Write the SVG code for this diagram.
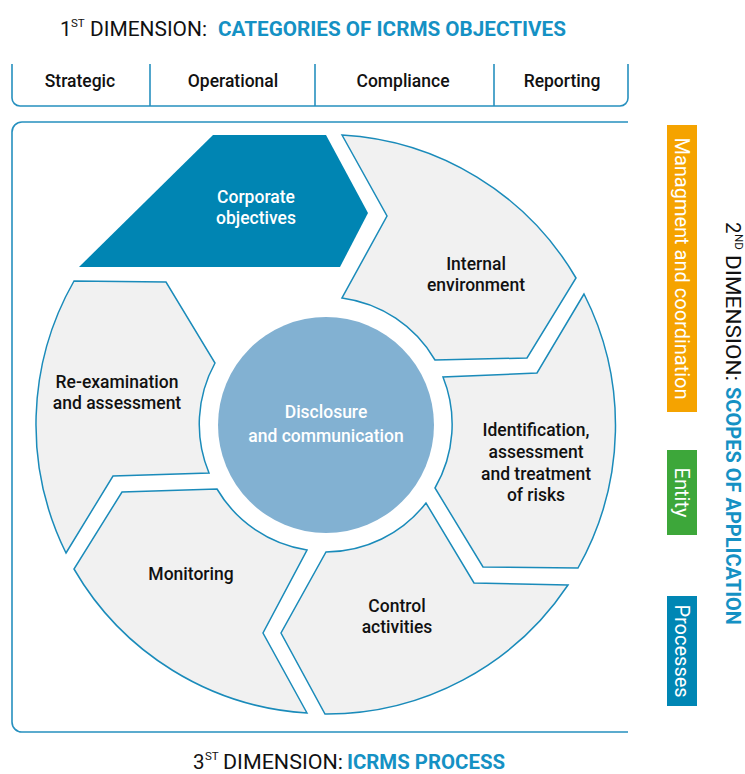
<svg xmlns="http://www.w3.org/2000/svg" width="745" height="774" viewBox="0 0 745 774">
<style>
.frame{fill:none;stroke:#2690BF;stroke-width:1.6}
.seg{fill:#F1F1F1;stroke:#1A8BBA;stroke-width:1.5}
.lbl{font-family:Roboto,"Liberation Sans",sans-serif;font-size:17.5px;font-weight:500;fill:#111;text-anchor:middle}
.wl{font-family:Roboto,"Liberation Sans",sans-serif;font-size:17.5px;font-weight:500;fill:#fff;text-anchor:middle}
.bar{font-family:Roboto,"Liberation Sans",sans-serif;font-size:20px;fill:#fff;text-anchor:middle}
.ttl{font-family:Roboto,"Liberation Sans",sans-serif;font-size:20.5px;fill:#111}
.ttb{font-family:Roboto,"Liberation Sans",sans-serif;font-size:20.5px;font-weight:bold;fill:#1591C4}
.sup{font-family:Roboto,"Liberation Sans",sans-serif;font-size:11.5px;fill:#111}
</style>
<rect width="745" height="774" fill="#fff"/>

<g id="title1">
<text class="ttl" x="60" y="36">1</text>
<text class="sup" x="71" y="27">ST</text>
<text class="ttl" x="90" y="36" textLength="117" lengthAdjust="spacingAndGlyphs">DIMENSION:</text>
<text class="ttb" x="218" y="36" textLength="348" lengthAdjust="spacingAndGlyphs">CATEGORIES OF ICRMS OBJECTIVES</text>
</g>

<g id="objectives-header">
<path class="frame" d="M12,64 V98 A8,8 0 0 0 20,106 H620 A8,8 0 0 0 628,98 V64"/>
<line class="frame" x1="150" y1="64" x2="150" y2="106"/>
<line class="frame" x1="315" y1="64" x2="315" y2="106"/>
<line class="frame" x1="494" y1="64" x2="494" y2="106"/>
<text class="lbl" x="80" y="87">Strategic</text>
<text class="lbl" x="233" y="87">Operational</text>
<text class="lbl" x="403" y="87">Compliance</text>
<text class="lbl" x="562" y="87">Reporting</text>
</g>

<g id="main-frame">
<path class="frame" d="M628,122 H22 A10,10 0 0 0 12,132 V722 A10,10 0 0 0 22,732 H628"/>
</g>

<g id="corporate-objectives">
<polygon points="79,267 213,135 326,135 368,213 340,267" fill="#0085B3"/>
<text class="wl" x="256" y="203">Corporate</text>
<text class="wl" x="256" y="224">objectives</text>
</g>

<g id="internal-environment">
<path class="seg" d="M342,135 L387,216 L342,298 A127,127 0 0 1 435,360 L527,358 L576,278 A290,290 0 0 0 342,135 Z"/>
<text class="lbl" x="476" y="270">Internal</text>
<text class="lbl" x="476" y="291">environment</text>
</g>

<g id="identification">
<path class="seg" d="M584,294 L537,373 L443,377 A127,127 0 0 1 435,488 L483,567 L578,568 A290,290 0 0 0 584,294 Z"/>
<text class="lbl" x="536" y="436">Identification,</text>
<text class="lbl" x="536" y="458">assessment</text>
<text class="lbl" x="536" y="480">and treatment</text>
<text class="lbl" x="536" y="501">of risks</text>
</g>

<g id="control-activities">
<path class="seg" d="M568,585 L474,583 L426,503 A127,127 0 0 1 326,552 L281,633 L325,714 A290,290 0 0 0 568,585 Z"/>
<text class="lbl" x="397" y="612">Control</text>
<text class="lbl" x="397" y="633">activities</text>
</g>

<g id="monitoring">
<path class="seg" d="M307,713 L263,633 L307,550 A127,127 0 0 1 217,489 L122,492 L74,569 A290,290 0 0 0 307,713 Z"/>
<text class="lbl" x="191" y="580">Monitoring</text>
</g>

<g id="re-examination">
<path class="seg" d="M66,553 L113,476 L209,473 A127,127 0 0 1 215,363 L166,282 L74,281 A290,290 0 0 0 66,553 Z"/>
<text class="lbl" x="117" y="388">Re-examination</text>
<text class="lbl" x="117" y="409">and assessment</text>
</g>

<g id="disclosure">
<circle cx="326" cy="425" r="108" fill="#82B1D2"/>
<text class="wl" x="326" y="418">Disclosure</text>
<text class="wl" x="326" y="442">and communication</text>
</g>

<g id="scope-management">
<rect x="667" y="125" width="30" height="287" fill="#F5A300"/>
<text class="bar" transform="translate(682,268.5) rotate(90)" y="7">Managment and coordination</text>
</g>
<g id="scope-entity">
<rect x="667" y="450" width="30" height="85" fill="#3DA73A"/>
<text class="bar" transform="translate(682,492.5) rotate(90)" y="7">Entity</text>
</g>
<g id="scope-processes">
<rect x="667" y="596" width="30" height="110" fill="#0086B4"/>
<text class="bar" transform="translate(682,651) rotate(90)" y="7">Processes</text>
</g>

<g id="title2" transform="translate(726,222) rotate(90)">
<text class="ttl" x="0" y="0">2</text>
<text class="sup" x="12" y="-9">ND</text>
<text class="ttl" x="33" y="0" textLength="126" lengthAdjust="spacingAndGlyphs">DIMENSION:</text>
<text class="ttb" x="165" y="0" textLength="238" lengthAdjust="spacingAndGlyphs">SCOPES OF APPLICATION</text>
</g>

<g id="title3">
<text class="ttl" x="193" y="769">3</text>
<text class="sup" x="205" y="760">ST</text>
<text class="ttl" x="223" y="769" textLength="120" lengthAdjust="spacingAndGlyphs">DIMENSION:</text>
<text class="ttb" x="347" y="769" textLength="158" lengthAdjust="spacingAndGlyphs">ICRMS PROCESS</text>
</g>
</svg>
